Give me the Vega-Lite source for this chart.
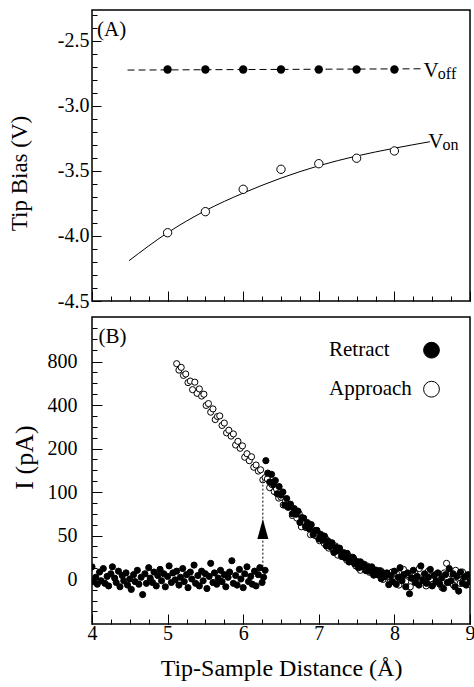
{
  "$schema": "https://vega.github.io/schema/vega-lite/v6.json",
  "padding": {"left": 7, "top": 9, "right": 2, "bottom": 2},
  "spacing": 4,
  "config": {
    "view": {"stroke": "black", "strokeWidth": 1.5},
    "font": "Liberation Serif",
    "axis": {"domain": false, "grid": false, "ticks": true, "tickColor": "black", "tickWidth": 1, "tickOpacity": 1, "labelColor": "black", "labelFont": "Liberation Serif", "labelFontSize": 20, "titleFont": "Liberation Serif", "titleFontSize": 23, "titleFontWeight": "normal", "titleColor": "black", "labelOverlap": false, "labelFlush": false, "labelBound": false, "minExtent": 0, "zindex": 1}
  },
  "datasets": {
    "vofffit": [{"d": 4.47, "v": -2.724}, {"d": 8.38, "v": -2.714}],
    "voff": [{"d": 5, "v": -2.72}, {"d": 5.5, "v": -2.72}, {"d": 6, "v": -2.72}, {"d": 6.5, "v": -2.72}, {"d": 7, "v": -2.72}, {"d": 7.5, "v": -2.72}, {"d": 8, "v": -2.72}],
    "vonfit": [{"d": 4.49, "v": -4.19}, {"d": 5, "v": -3.975}, {"d": 5.5, "v": -3.805}, {"d": 6, "v": -3.67}, {"d": 6.5, "v": -3.555}, {"d": 7, "v": -3.46}, {"d": 7.5, "v": -3.385}, {"d": 8, "v": -3.325}, {"d": 8.47, "v": -3.275}],
    "von": [{"d": 5, "v": -3.975}, {"d": 5.5, "v": -3.813}, {"d": 6, "v": -3.641}, {"d": 6.5, "v": -3.487}, {"d": 7, "v": -3.444}, {"d": 7.5, "v": -3.402}, {"d": 8, "v": -3.346}],
    "curr": [
      {"d":5.12,"i":780,"s":"Approach"},{"d":5.15,"i":721,"s":"Approach"},{"d":5.18,"i":746,"s":"Approach"},{"d":5.21,"i":672,"s":"Approach"},{"d":5.24,"i":685,"s":"Approach"},{"d":5.27,"i":606,"s":"Approach"},{"d":5.30,"i":620,"s":"Approach"},{"d":5.33,"i":541,"s":"Approach"},{"d":5.36,"i":610,"s":"Approach"},{"d":5.39,"i":507,"s":"Approach"},
      {"d":5.42,"i":548,"s":"Approach"},{"d":5.45,"i":482,"s":"Approach"},{"d":5.48,"i":499,"s":"Approach"},{"d":5.51,"i":398,"s":"Approach"},{"d":5.54,"i":413,"s":"Approach"},{"d":5.57,"i":367,"s":"Approach"},{"d":5.60,"i":382,"s":"Approach"},{"d":5.63,"i":333,"s":"Approach"},{"d":5.66,"i":347,"s":"Approach"},{"d":5.69,"i":350,"s":"Approach"},
      {"d":5.72,"i":306,"s":"Approach"},{"d":5.75,"i":317,"s":"Approach"},{"d":5.78,"i":272,"s":"Approach"},{"d":5.81,"i":284,"s":"Approach"},{"d":5.84,"i":257,"s":"Approach"},{"d":5.87,"i":267,"s":"Approach"},{"d":5.90,"i":216,"s":"Approach"},{"d":5.93,"i":233,"s":"Approach"},{"d":5.96,"i":201,"s":"Approach"},{"d":5.99,"i":212,"s":"Approach"},
      {"d":6.02,"i":180,"s":"Approach"},{"d":6.05,"i":188,"s":"Approach"},{"d":6.08,"i":172,"s":"Approach"},{"d":6.11,"i":181,"s":"Approach"},{"d":6.14,"i":157,"s":"Approach"},{"d":6.17,"i":162,"s":"Approach"},{"d":6.20,"i":148,"s":"Approach"},{"d":6.23,"i":151,"s":"Approach"},{"d":6.26,"i":128,"s":"Approach"},{"d":6.29,"i":133,"s":"Approach"},
      {"d":6.32,"i":130,"s":"Approach"},{"d":6.35,"i":110,"s":"Approach"},{"d":6.38,"i":117,"s":"Approach"},{"d":6.41,"i":101,"s":"Approach"},{"d":6.44,"i":107,"s":"Approach"},{"d":6.47,"i":93,"s":"Approach"},{"d":6.50,"i":94,"s":"Approach"},{"d":6.53,"i":85,"s":"Approach"},{"d":6.56,"i":90,"s":"Approach"},{"d":6.59,"i":82.5,"s":"Approach"},
      {"d":6.62,"i":85,"s":"Approach"},{"d":6.65,"i":73,"s":"Approach"},{"d":6.68,"i":77,"s":"Approach"},{"d":6.71,"i":70,"s":"Approach"},{"d":6.74,"i":75,"s":"Approach"},{"d":6.77,"i":60,"s":"Approach"},{"d":6.80,"i":66,"s":"Approach"},{"d":6.83,"i":59,"s":"Approach"},{"d":6.86,"i":62,"s":"Approach"},{"d":6.89,"i":51,"s":"Approach"},
      {"d":6.92,"i":56.5,"s":"Approach"},{"d":6.95,"i":50,"s":"Approach"},{"d":6.98,"i":53.5,"s":"Approach"},{"d":7.01,"i":44,"s":"Approach"},{"d":7.04,"i":48,"s":"Approach"},{"d":7.07,"i":41,"s":"Approach"},{"d":7.10,"i":45.5,"s":"Approach"},{"d":7.13,"i":35.5,"s":"Approach"},{"d":7.16,"i":39.5,"s":"Approach"},{"d":7.19,"i":33.5,"s":"Approach"},
      {"d":7.22,"i":38,"s":"Approach"},{"d":7.25,"i":27.5,"s":"Approach"},{"d":7.28,"i":31.7,"s":"Approach"},{"d":7.31,"i":26,"s":"Approach"},{"d":7.34,"i":30,"s":"Approach"},{"d":7.37,"i":21.7,"s":"Approach"},{"d":7.40,"i":26,"s":"Approach"},{"d":7.43,"i":20,"s":"Approach"},{"d":7.46,"i":24,"s":"Approach"},{"d":7.49,"i":15,"s":"Approach"},
      {"d":7.52,"i":19.6,"s":"Approach"},{"d":7.55,"i":10,"s":"Approach"},{"d":7.58,"i":16.4,"s":"Approach"},{"d":7.61,"i":10.6,"s":"Approach"},{"d":7.64,"i":15,"s":"Approach"},{"d":7.67,"i":7.7,"s":"Approach"},{"d":7.70,"i":13,"s":"Approach"},{"d":7.73,"i":4.5,"s":"Approach"},{"d":7.76,"i":10,"s":"Approach"},{"d":7.79,"i":5,"s":"Approach"},
      {"d":7.82,"i":9.4,"s":"Approach"},{"d":7.85,"i":-0.5,"s":"Approach"},{"d":7.88,"i":5.6,"s":"Approach"},{"d":7.91,"i":3,"s":"Approach"},{"d":7.94,"i":-4,"s":"Approach"},{"d":7.97,"i":8,"s":"Approach"},{"d":8.00,"i":-1,"s":"Approach"},{"d":8.03,"i":6,"s":"Approach"},{"d":8.06,"i":-7,"s":"Approach"},{"d":8.09,"i":2,"s":"Approach"},
      {"d":8.12,"i":11,"s":"Approach"},{"d":8.15,"i":-3,"s":"Approach"},{"d":8.18,"i":5,"s":"Approach"},{"d":8.21,"i":-9,"s":"Approach"},{"d":8.24,"i":1,"s":"Approach"},{"d":8.27,"i":7,"s":"Approach"},{"d":8.30,"i":-5,"s":"Approach"},{"d":8.33,"i":12,"s":"Approach"},{"d":8.36,"i":-2,"s":"Approach"},{"d":8.39,"i":4,"s":"Approach"},
      {"d":8.42,"i":-8,"s":"Approach"},{"d":8.45,"i":9,"s":"Approach"},{"d":8.48,"i":0,"s":"Approach"},{"d":8.51,"i":-6,"s":"Approach"},{"d":8.54,"i":5,"s":"Approach"},{"d":8.57,"i":-3,"s":"Approach"},{"d":8.60,"i":3,"s":"Approach"},{"d":8.63,"i":-10,"s":"Approach"},{"d":8.66,"i":7,"s":"Approach"},{"d":8.69,"i":18,"s":"Approach"},
      {"d":8.72,"i":-4,"s":"Approach"},{"d":8.75,"i":6,"s":"Approach"},{"d":8.78,"i":-7,"s":"Approach"},{"d":8.81,"i":10,"s":"Approach"},{"d":8.84,"i":1,"s":"Approach"},{"d":8.87,"i":-5,"s":"Approach"},{"d":8.90,"i":8,"s":"Approach"},{"d":8.93,"i":-2,"s":"Approach"},{"d":8.96,"i":4,"s":"Approach"},{"d":8.99,"i":-6,"s":"Approach"},
      {"d":4.00,"i":14,"s":"Retract"},{"d":4.02,"i":-3,"s":"Retract"},{"d":4.05,"i":2,"s":"Retract"},{"d":4.07,"i":-6,"s":"Retract"},{"d":4.10,"i":8,"s":"Retract"},{"d":4.12,"i":-2,"s":"Retract"},{"d":4.15,"i":12,"s":"Retract"},{"d":4.17,"i":-5,"s":"Retract"},{"d":4.20,"i":3,"s":"Retract"},{"d":4.22,"i":-8,"s":"Retract"},
      {"d":4.25,"i":6,"s":"Retract"},{"d":4.27,"i":14,"s":"Retract"},{"d":4.30,"i":1,"s":"Retract"},{"d":4.32,"i":-4,"s":"Retract"},{"d":4.35,"i":9,"s":"Retract"},{"d":4.37,"i":-9,"s":"Retract"},{"d":4.40,"i":4,"s":"Retract"},{"d":4.42,"i":-2,"s":"Retract"},{"d":4.45,"i":7,"s":"Retract"},{"d":4.47,"i":-7,"s":"Retract"},
      {"d":4.50,"i":0,"s":"Retract"},{"d":4.52,"i":-12,"s":"Retract"},{"d":4.55,"i":5,"s":"Retract"},{"d":4.57,"i":-3,"s":"Retract"},{"d":4.60,"i":10,"s":"Retract"},{"d":4.62,"i":-6,"s":"Retract"},{"d":4.65,"i":2,"s":"Retract"},{"d":4.67,"i":-18,"s":"Retract"},{"d":4.70,"i":6,"s":"Retract"},{"d":4.72,"i":-5,"s":"Retract"},
      {"d":4.75,"i":13,"s":"Retract"},{"d":4.77,"i":1,"s":"Retract"},{"d":4.80,"i":-4,"s":"Retract"},{"d":4.82,"i":8,"s":"Retract"},{"d":4.85,"i":-8,"s":"Retract"},{"d":4.87,"i":4,"s":"Retract"},{"d":4.90,"i":11,"s":"Retract"},{"d":4.92,"i":-2,"s":"Retract"},{"d":4.95,"i":6,"s":"Retract"},{"d":4.97,"i":-9,"s":"Retract"},
      {"d":5.00,"i":3,"s":"Retract"},{"d":5.02,"i":15,"s":"Retract"},{"d":5.05,"i":-4,"s":"Retract"},{"d":5.07,"i":7,"s":"Retract"},{"d":5.10,"i":-1,"s":"Retract"},{"d":5.12,"i":9,"s":"Retract"},{"d":5.15,"i":-7,"s":"Retract"},{"d":5.17,"i":2,"s":"Retract"},{"d":5.20,"i":12,"s":"Retract"},{"d":5.22,"i":-3,"s":"Retract"},
      {"d":5.25,"i":5,"s":"Retract"},{"d":5.27,"i":-10,"s":"Retract"},{"d":5.30,"i":8,"s":"Retract"},{"d":5.32,"i":0,"s":"Retract"},{"d":5.35,"i":16,"s":"Retract"},{"d":5.37,"i":-5,"s":"Retract"},{"d":5.40,"i":4,"s":"Retract"},{"d":5.42,"i":-8,"s":"Retract"},{"d":5.45,"i":9,"s":"Retract"},{"d":5.47,"i":-2,"s":"Retract"},
      {"d":5.50,"i":6,"s":"Retract"},{"d":5.52,"i":-11,"s":"Retract"},{"d":5.55,"i":3,"s":"Retract"},{"d":5.57,"i":18,"s":"Retract"},{"d":5.60,"i":-4,"s":"Retract"},{"d":5.62,"i":7,"s":"Retract"},{"d":5.65,"i":-6,"s":"Retract"},{"d":5.67,"i":1,"s":"Retract"},{"d":5.70,"i":10,"s":"Retract"},{"d":5.72,"i":-3,"s":"Retract"},
      {"d":5.75,"i":5,"s":"Retract"},{"d":5.77,"i":-9,"s":"Retract"},{"d":5.80,"i":2,"s":"Retract"},{"d":5.82,"i":8,"s":"Retract"},{"d":5.85,"i":21,"s":"Retract"},{"d":5.87,"i":-5,"s":"Retract"},{"d":5.90,"i":4,"s":"Retract"},{"d":5.92,"i":-7,"s":"Retract"},{"d":5.95,"i":11,"s":"Retract"},{"d":5.97,"i":0,"s":"Retract"},
      {"d":6.00,"i":-10,"s":"Retract"},{"d":6.02,"i":6,"s":"Retract"},{"d":6.05,"i":14,"s":"Retract"},{"d":6.07,"i":-3,"s":"Retract"},{"d":6.10,"i":3,"s":"Retract"},{"d":6.12,"i":-6,"s":"Retract"},{"d":6.15,"i":9,"s":"Retract"},{"d":6.17,"i":-8,"s":"Retract"},{"d":6.20,"i":5,"s":"Retract"},{"d":6.22,"i":13,"s":"Retract"},
      {"d":6.25,"i":-4,"s":"Retract"},{"d":6.27,"i":2,"s":"Retract"},{"d":6.29,"i":10,"s":"Retract"},
      {"d":6.30,"i":172,"s":"Retract"},{"d":6.325,"i":143.5,"s":"Retract"},{"d":6.35,"i":123,"s":"Retract"},{"d":6.375,"i":140.5,"s":"Retract"},{"d":6.40,"i":117,"s":"Retract"},{"d":6.425,"i":126.5,"s":"Retract"},{"d":6.45,"i":98,"s":"Retract"},{"d":6.475,"i":112.5,"s":"Retract"},{"d":6.50,"i":96.5,"s":"Retract"},{"d":6.525,"i":100,"s":"Retract"},
      {"d":6.55,"i":85,"s":"Retract"},{"d":6.575,"i":92.5,"s":"Retract"},{"d":6.60,"i":82.5,"s":"Retract"},{"d":6.625,"i":86,"s":"Retract"},{"d":6.65,"i":75,"s":"Retract"},{"d":6.675,"i":81,"s":"Retract"},{"d":6.70,"i":74.5,"s":"Retract"},{"d":6.725,"i":78,"s":"Retract"},{"d":6.75,"i":65,"s":"Retract"},{"d":6.775,"i":70.6,"s":"Retract"},
      {"d":6.80,"i":70,"s":"Retract"},{"d":6.825,"i":60.4,"s":"Retract"},{"d":6.85,"i":64.8,"s":"Retract"},{"d":6.875,"i":57.6,"s":"Retract"},{"d":6.90,"i":62.5,"s":"Retract"},{"d":6.925,"i":51.1,"s":"Retract"},{"d":6.95,"i":55.3,"s":"Retract"},{"d":6.975,"i":55.9,"s":"Retract"},{"d":7.00,"i":46,"s":"Retract"},{"d":7.025,"i":51.3,"s":"Retract"},
      {"d":7.05,"i":44.5,"s":"Retract"},{"d":7.075,"i":49.3,"s":"Retract"},{"d":7.10,"i":38,"s":"Retract"},{"d":7.125,"i":43.4,"s":"Retract"},{"d":7.15,"i":37.3,"s":"Retract"},{"d":7.175,"i":41.6,"s":"Retract"},{"d":7.20,"i":30.5,"s":"Retract"},{"d":7.225,"i":36.5,"s":"Retract"},{"d":7.25,"i":32.5,"s":"Retract"},{"d":7.275,"i":35.5,"s":"Retract"},
      {"d":7.30,"i":26,"s":"Retract"},{"d":7.325,"i":30.1,"s":"Retract"},{"d":7.35,"i":24.3,"s":"Retract"},{"d":7.375,"i":29.4,"s":"Retract"},{"d":7.40,"i":19.5,"s":"Retract"},{"d":7.425,"i":24.3,"s":"Retract"},{"d":7.45,"i":25,"s":"Retract"},{"d":7.475,"i":17.3,"s":"Retract"},{"d":7.50,"i":20,"s":"Retract"},{"d":7.525,"i":12.9,"s":"Retract"},
      {"d":7.55,"i":19.8,"s":"Retract"},{"d":7.575,"i":14.1,"s":"Retract"},{"d":7.60,"i":17,"s":"Retract"},{"d":7.625,"i":9.5,"s":"Retract"},{"d":7.65,"i":13.5,"s":"Retract"},{"d":7.675,"i":9,"s":"Retract"},{"d":7.70,"i":14,"s":"Retract"},{"d":7.725,"i":4.6,"s":"Retract"},{"d":7.75,"i":10.3,"s":"Retract"},{"d":7.775,"i":4.9,"s":"Retract"},
      {"d":7.80,"i":9.5,"s":"Retract"},{"d":7.825,"i":0.3,"s":"Retract"},{"d":7.85,"i":7,"s":"Retract"},{"d":7.875,"i":2.8,"s":"Retract"},{"d":7.90,"i":7,"s":"Retract"},{"d":7.925,"i":-6.5,"s":"Retract"},{"d":7.95,"i":4,"s":"Retract"},{"d":7.975,"i":-3,"s":"Retract"},{"d":8.00,"i":9,"s":"Retract"},{"d":8.025,"i":-6,"s":"Retract"},
      {"d":8.05,"i":2,"s":"Retract"},{"d":8.075,"i":13,"s":"Retract"},{"d":8.10,"i":-2,"s":"Retract"},{"d":8.125,"i":5,"s":"Retract"},{"d":8.15,"i":-9,"s":"Retract"},{"d":8.175,"i":7,"s":"Retract"},{"d":8.20,"i":-17,"s":"Retract"},{"d":8.225,"i":1,"s":"Retract"},{"d":8.25,"i":10,"s":"Retract"},{"d":8.275,"i":-4,"s":"Retract"},
      {"d":8.30,"i":3,"s":"Retract"},{"d":8.325,"i":-7,"s":"Retract"},{"d":8.35,"i":15,"s":"Retract"},{"d":8.375,"i":-1,"s":"Retract"},{"d":8.40,"i":6,"s":"Retract"},{"d":8.425,"i":-5,"s":"Retract"},{"d":8.45,"i":2,"s":"Retract"},{"d":8.475,"i":11,"s":"Retract"},{"d":8.50,"i":-8,"s":"Retract"},{"d":8.525,"i":4,"s":"Retract"},
      {"d":8.55,"i":-3,"s":"Retract"},{"d":8.575,"i":7,"s":"Retract"},{"d":8.60,"i":-6,"s":"Retract"},{"d":8.625,"i":1,"s":"Retract"},{"d":8.65,"i":-11,"s":"Retract"},{"d":8.675,"i":5,"s":"Retract"},{"d":8.70,"i":-4,"s":"Retract"},{"d":8.725,"i":12,"s":"Retract"},{"d":8.75,"i":-2,"s":"Retract"},{"d":8.775,"i":6,"s":"Retract"},
      {"d":8.80,"i":-9,"s":"Retract"},{"d":8.825,"i":3,"s":"Retract"},{"d":8.85,"i":-14,"s":"Retract"},{"d":8.875,"i":8,"s":"Retract"},{"d":8.90,"i":-5,"s":"Retract"},{"d":8.925,"i":2,"s":"Retract"},{"d":8.95,"i":-7,"s":"Retract"},{"d":8.975,"i":5,"s":"Retract"},{"d":9.00,"i":-3,"s":"Retract"}
    ]
  },
  "vconcat": [
    {
      "width": 378,
      "height": 291,
      "resolve": {"axis": {"x": "independent", "y": "independent"}},
      "layer": [
        {
          "data": {"name": "vofffit"},
          "mark": {"type": "line", "color": "black", "strokeWidth": 1, "strokeDash": [7, 4]},
          "encoding": {
            "x": {"field": "d", "type": "quantitative", "scale": {"domain": [4, 9], "nice": false, "zero": false},
              "axis": {"orient": "bottom", "values": [4,4.25,4.5,4.75,5,5.25,5.5,5.75,6,6.25,6.5,6.75,7,7.25,7.5,7.75,8,8.25,8.5,8.75,9], "labels": false, "title": null, "tickSize": 5, "offset": -5}},
            "y": {"field": "v", "type": "quantitative", "scale": {"domain": [-4.5, -2.262], "nice": false, "zero": false},
              "axis": {"orient": "left", "values": [-4.5,-4.4,-4.3,-4.2,-4.1,-4.0,-3.9,-3.8,-3.7,-3.6,-3.5,-3.4,-3.3,-3.2,-3.1,-3.0,-2.9,-2.8,-2.7,-2.6,-2.5,-2.4,-2.3], "labels": false, "title": null, "tickSize": 5, "offset": -5}}
          }
        },
        {
          "data": {"name": "voff"},
          "mark": {"type": "point", "shape": "circle", "filled": true, "color": "black", "size": 70, "opacity": 1},
          "encoding": {
            "x": {"field": "d", "type": "quantitative",
              "axis": {"orient": "bottom", "values": [4,5,6,7,8,9], "labels": false, "title": null, "tickSize": 10, "offset": -10}},
            "y": {"field": "v", "type": "quantitative",
              "axis": {"orient": "left", "values": [-4.5,-4.0,-3.5,-3.0,-2.5], "format": ".1f", "labelExpr": "replace(datum.label, '\u2212', '-')",
                "tickSize": 9, "offset": -9, "labelPadding": 3, "title": "Tip Bias (V)", "titleX": -70, "titleY": 163}}
          }
        },
        {
          "data": {"name": "vonfit"},
          "mark": {"type": "line", "color": "black", "strokeWidth": 1, "interpolate": "monotone"},
          "encoding": {"x": {"field": "d", "type": "quantitative", "axis": null}, "y": {"field": "v", "type": "quantitative", "axis": null}}
        },
        {
          "data": {"name": "von"},
          "mark": {"type": "point", "shape": "circle", "filled": true, "fill": "white", "stroke": "black", "strokeWidth": 1, "size": 70, "opacity": 1},
          "encoding": {"x": {"field": "d", "type": "quantitative", "axis": null}, "y": {"field": "v", "type": "quantitative", "axis": null}}
        },
        {
          "data": {"values": [{}]},
          "mark": {"type": "text", "text": "V", "font": "Liberation Serif", "fontSize": 21, "align": "left", "baseline": "alphabetic", "color": "black"},
          "encoding": {"x": {"datum": 8.386, "axis": null}, "y": {"datum": -2.777, "axis": null}}
        },
        {
          "data": {"values": [{}]},
          "mark": {"type": "text", "text": "off", "font": "Liberation Serif", "fontSize": 16, "align": "left", "baseline": "alphabetic", "color": "black"},
          "encoding": {"x": {"datum": 8.575, "axis": null}, "y": {"datum": -2.792, "axis": null}}
        },
        {
          "data": {"values": [{}]},
          "mark": {"type": "text", "text": "V", "font": "Liberation Serif", "fontSize": 21, "align": "left", "baseline": "alphabetic", "color": "black"},
          "encoding": {"x": {"datum": 8.449, "axis": null}, "y": {"datum": -3.325, "axis": null}}
        },
        {
          "data": {"values": [{}]},
          "mark": {"type": "text", "text": "on", "font": "Liberation Serif", "fontSize": 16, "align": "left", "baseline": "alphabetic", "color": "black"},
          "encoding": {"x": {"datum": 8.636, "axis": null}, "y": {"datum": -3.338, "axis": null}}
        },
        {
          "data": {"values": [{}]},
          "mark": {"type": "text", "text": "(A)", "font": "Liberation Serif", "fontSize": 21, "align": "left", "baseline": "alphabetic", "color": "black"},
          "encoding": {"x": {"datum": 4.066, "axis": null}, "y": {"datum": -2.462, "axis": null}}
        }
      ]
    },
    {
      "width": 378,
      "height": 307,
      "resolve": {"axis": {"x": "independent", "y": "independent"}},
      "layer": [
        {
          "data": {"name": "curr"},
          "mark": {"type": "point", "shape": "circle", "filled": true, "stroke": "black", "strokeWidth": 1, "size": 38, "opacity": 1, "clip": true},
          "encoding": {
            "x": {"field": "d", "type": "quantitative", "scale": {"domain": [4, 9], "nice": false, "zero": false},
              "axis": {"orient": "bottom", "values": [4,5,6,7,8,9], "format": "d", "tickSize": 10, "offset": -10, "labelPadding": -1,
                "title": "Tip-Sample Distance (\u00c5)", "titleFontSize": 24, "titleBaseline": "alphabetic", "titleY": 61.6}},
            "y": {"field": "i", "type": "quantitative",
              "scale": {"type": "linear", "domain": [-52, 0, 50, 100, 200, 400, 800, 1600], "range": [307, 262, 218.5, 175, 131.5, 88, 44.5, 0], "nice": false, "zero": false},
              "axis": {"orient": "left", "values": [0,50,100,200,400,800], "format": "d", "tickSize": 10, "offset": -10, "labelPadding": 15,
                "title": "I (pA)", "titleFontSize": 26, "titleX": -64.5, "titleY": 140}},
            "fill": {"field": "s", "type": "nominal",
              "scale": {"domain": ["Retract", "Approach"], "range": ["black", "white"]},
              "legend": {"orient": "none", "legendX": 329, "legendY": 329.7, "title": null, "padding": 0,
                "symbolType": "circle", "symbolSize": 250, "symbolStrokeColor": "black", "symbolStrokeWidth": 1,
                "labelFont": "Liberation Serif", "labelFontSize": 21, "labelColor": "black", "labelOffset": -113, "rowPadding": 17}}
          }
        },
        {
          "data": {"values": [{}]},
          "mark": {"type": "rule", "color": "black", "strokeWidth": 1, "strokeDash": [2, 2]},
          "encoding": {
            "x": {"datum": 6.26, "axis": {"orient": "bottom", "values": [4,4.25,4.5,4.75,5,5.25,5.5,5.75,6,6.25,6.5,6.75,7,7.25,7.5,7.75,8,8.25,8.5,8.75,9], "labels": false, "title": null, "tickSize": 5, "offset": -5}},
            "y": {"datum": 9.6, "axis": {"orient": "left", "values": [-37.5,-25,-12.5,0,12.5,25,37.5,50,62.5,75,87.5,100,125,150,175,200,250,300,350,400,500,600,700,800,1000,1200,1400], "labels": false, "title": null, "tickSize": 5, "offset": -5}},
            "y2": {"datum": 130}
          }
        },
        {
          "data": {"values": [{}]},
          "mark": {"type": "point", "shape": "M0,-1L0.55,1L-0.55,1Z", "filled": true, "color": "black", "size": 400, "opacity": 1},
          "encoding": {"x": {"datum": 6.26, "axis": null}, "y": {"datum": 57.5, "axis": null}}
        },
        {
          "data": {"values": [{}]},
          "mark": {"type": "text", "text": "(B)", "font": "Liberation Serif", "fontSize": 21, "align": "left", "baseline": "alphabetic", "color": "black"},
          "encoding": {"x": {"datum": 4.087, "axis": null}, "y": {"datum": 1134, "axis": null}}
        }
      ]
    }
  ]
}
